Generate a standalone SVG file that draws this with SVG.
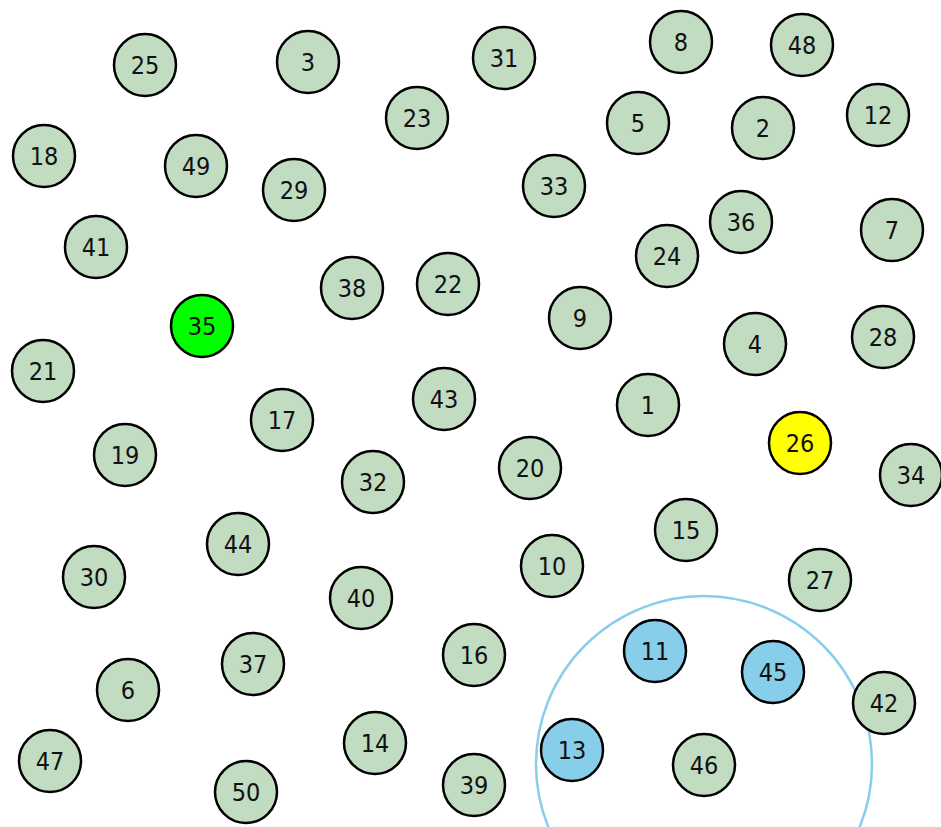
<svg xmlns="http://www.w3.org/2000/svg" width="941" height="827" viewBox="0 0 941 827">
<style>
.n circle{fill:#c1dcc1;stroke:#000;stroke-width:2.5}
.n.b circle{fill:#87ceeb}
.n.g circle{fill:#00ff00}
.n.y circle{fill:#ffff00}
.n text{font-family:"DejaVu Sans Condensed","Liberation Sans",sans-serif;font-size:25px;fill:#111;text-anchor:middle}
</style>
<rect width="941" height="827" fill="#fff"/>
<g id="connectors">
<circle cx="704" cy="764" r="168" fill="none" stroke="#87ceeb" stroke-width="2.5"/>
</g>
<g id="n25" class="n"><circle cx="145" cy="65" r="31"/><text x="145" y="74">25</text></g>
<g id="n3" class="n"><circle cx="308" cy="62" r="31"/><text x="308" y="71">3</text></g>
<g id="n31" class="n"><circle cx="504" cy="58" r="31"/><text x="504" y="67">31</text></g>
<g id="n8" class="n"><circle cx="681" cy="42" r="31"/><text x="681" y="51">8</text></g>
<g id="n48" class="n"><circle cx="802" cy="45" r="31"/><text x="802" y="54">48</text></g>
<g id="n12" class="n"><circle cx="878" cy="115" r="31"/><text x="878" y="124">12</text></g>
<g id="n23" class="n"><circle cx="417" cy="118" r="31"/><text x="417" y="127">23</text></g>
<g id="n5" class="n"><circle cx="638" cy="123" r="31"/><text x="638" y="132">5</text></g>
<g id="n2" class="n"><circle cx="763" cy="128" r="31"/><text x="763" y="137">2</text></g>
<g id="n18" class="n"><circle cx="44" cy="156" r="31"/><text x="44" y="165">18</text></g>
<g id="n49" class="n"><circle cx="196" cy="166" r="31"/><text x="196" y="175">49</text></g>
<g id="n29" class="n"><circle cx="294" cy="190" r="31"/><text x="294" y="199">29</text></g>
<g id="n33" class="n"><circle cx="554" cy="186" r="31"/><text x="554" y="195">33</text></g>
<g id="n36" class="n"><circle cx="741" cy="222" r="31"/><text x="741" y="231">36</text></g>
<g id="n7" class="n"><circle cx="892" cy="230" r="31"/><text x="892" y="239">7</text></g>
<g id="n41" class="n"><circle cx="96" cy="247" r="31"/><text x="96" y="256">41</text></g>
<g id="n24" class="n"><circle cx="667" cy="256" r="31"/><text x="667" y="265">24</text></g>
<g id="n22" class="n"><circle cx="448" cy="284" r="31"/><text x="448" y="293">22</text></g>
<g id="n38" class="n"><circle cx="352" cy="288" r="31"/><text x="352" y="297">38</text></g>
<g id="n9" class="n"><circle cx="580" cy="318" r="31"/><text x="580" y="327">9</text></g>
<g id="n35" class="n g"><circle cx="202" cy="326" r="31"/><text x="202" y="335">35</text></g>
<g id="n4" class="n"><circle cx="755" cy="344" r="31"/><text x="755" y="353">4</text></g>
<g id="n28" class="n"><circle cx="883" cy="337" r="31"/><text x="883" y="346">28</text></g>
<g id="n21" class="n"><circle cx="43" cy="371" r="31"/><text x="43" y="380">21</text></g>
<g id="n43" class="n"><circle cx="444" cy="399" r="31"/><text x="444" y="408">43</text></g>
<g id="n1" class="n"><circle cx="648" cy="405" r="31"/><text x="648" y="414">1</text></g>
<g id="n17" class="n"><circle cx="282" cy="420" r="31"/><text x="282" y="429">17</text></g>
<g id="n26" class="n y"><circle cx="800" cy="443" r="31"/><text x="800" y="452">26</text></g>
<g id="n19" class="n"><circle cx="125" cy="455" r="31"/><text x="125" y="464">19</text></g>
<g id="n20" class="n"><circle cx="530" cy="468" r="31"/><text x="530" y="477">20</text></g>
<g id="n32" class="n"><circle cx="373" cy="482" r="31"/><text x="373" y="491">32</text></g>
<g id="n34" class="n"><circle cx="911" cy="475" r="31"/><text x="911" y="484">34</text></g>
<g id="n15" class="n"><circle cx="686" cy="530" r="31"/><text x="686" y="539">15</text></g>
<g id="n44" class="n"><circle cx="238" cy="544" r="31"/><text x="238" y="553">44</text></g>
<g id="n10" class="n"><circle cx="552" cy="566" r="31"/><text x="552" y="575">10</text></g>
<g id="n30" class="n"><circle cx="94" cy="577" r="31"/><text x="94" y="586">30</text></g>
<g id="n27" class="n"><circle cx="820" cy="580" r="31"/><text x="820" y="589">27</text></g>
<g id="n40" class="n"><circle cx="361" cy="598" r="31"/><text x="361" y="607">40</text></g>
<g id="n11" class="n b"><circle cx="655" cy="651" r="31"/><text x="655" y="660">11</text></g>
<g id="n16" class="n"><circle cx="474" cy="655" r="31"/><text x="474" y="664">16</text></g>
<g id="n45" class="n b"><circle cx="773" cy="672" r="31"/><text x="773" y="681">45</text></g>
<g id="n37" class="n"><circle cx="253" cy="664" r="31"/><text x="253" y="673">37</text></g>
<g id="n6" class="n"><circle cx="128" cy="690" r="31"/><text x="128" y="699">6</text></g>
<g id="n42" class="n"><circle cx="884" cy="703" r="31"/><text x="884" y="712">42</text></g>
<g id="n14" class="n"><circle cx="375" cy="743" r="31"/><text x="375" y="752">14</text></g>
<g id="n13" class="n b"><circle cx="572" cy="750" r="31"/><text x="572" y="759">13</text></g>
<g id="n46" class="n"><circle cx="704" cy="765" r="31"/><text x="704" y="774">46</text></g>
<g id="n47" class="n"><circle cx="50" cy="761" r="31"/><text x="50" y="770">47</text></g>
<g id="n39" class="n"><circle cx="474" cy="785" r="31"/><text x="474" y="794">39</text></g>
<g id="n50" class="n"><circle cx="246" cy="792" r="31"/><text x="246" y="801">50</text></g>
</svg>
